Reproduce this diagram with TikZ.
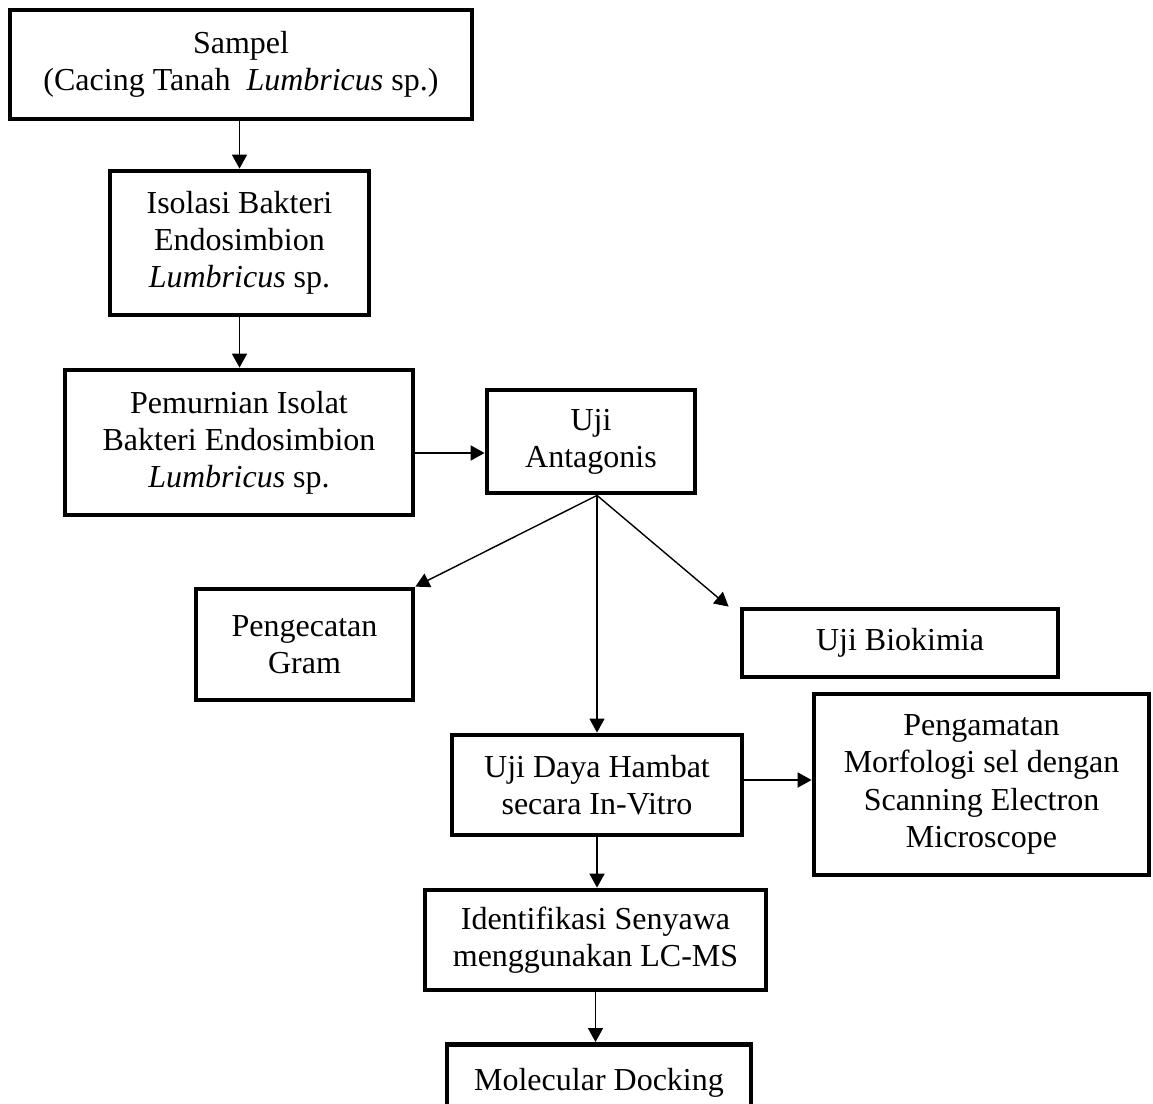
\documentclass[tikz,border=0pt]{standalone}
\usepackage{fontspec}
\setmainfont{Liberation Serif}
\usetikzlibrary{arrows.meta}
\begin{document}
\begin{tikzpicture}[x=1pt,y=-1pt,
  box/.style={draw, line width=4.8pt, rectangle, align=center, inner sep=0pt,
    font=\fontsize{32}{37.2}\selectfont},
  arr/.style={line width=1.8pt, -{Triangle[length=14pt,width=15pt]}},
  thinarr/.style={line width=1.4pt, -{Triangle[length=14pt,width=15pt]}}]
\useasboundingbox (0,0) rectangle (1153,1103);
\node[box, minimum width=462pt, minimum height=109pt] (B1) at (241,64.5)
  {Sampel\\(Cacing Tanah\ \ \textit{Lumbricus} sp.)};
\node[box, minimum width=259pt, minimum height=144pt] (B2) at (239.5,243)
  {Isolasi Bakteri\\Endosimbion\\\textit{Lumbricus} sp.};
\node[box, minimum width=348pt, minimum height=145pt] (B3) at (239,442.5)
  {Pemurnian Isolat\\Bakteri Endosimbion\\\textit{Lumbricus} sp.};
\node[box, minimum width=208pt, minimum height=103pt] (B4) at (591,441.5)
  {Uji\\Antagonis};
\node[box, minimum width=217pt, minimum height=111pt] (B5) at (304.5,644.5)
  {Pengecatan\\Gram};
\node[box, minimum width=316pt, minimum height=68pt] (B6) at (900,643)
  {Uji Biokimia};
\node[box, minimum width=290pt, minimum height=100pt] (B7) at (597,785)
  {Uji Daya Hambat\\secara In-Vitro};
\node[box, minimum width=335pt, minimum height=181pt] (B8) at (981.5,784.5)
  {Pengamatan\\Morfologi sel dengan\\Scanning Electron\\Microscope};
\node[box, minimum width=341pt, minimum height=100pt] (B9) at (595.5,940)
  {Identifikasi Senyawa\\menggunakan LC-MS};
\node[box, minimum width=304pt, minimum height=80pt, anchor=north] (B10) at (599,1042)
  {\raisebox{11pt}{Molecular Docking}};
\coordinate (split) at (B7.north |- B4.south);
\draw[arr] (B2.north |- B1.south) -- (B2.north);
\draw[arr] (B2.south) -- (B2.south |- B3.north);
\draw[arr] (B3.east |- 0,453) -- (B4.west |- 0,453);
\draw[thinarr] (split) -- (B5.north east);
\draw[thinarr] (split) -- ([xshift=-11pt]B6.north west);
\draw[thinarr] (split) -- (B7.north);
\draw[arr] (B7.east |- 0,780) -- (B8.west |- 0,780);
\draw[arr] (B7.south) -- (B7.south |- B9.north);
\draw[arr] (B9.south) -- (B9.south |- B10.north);
\end{tikzpicture}
\end{document}
